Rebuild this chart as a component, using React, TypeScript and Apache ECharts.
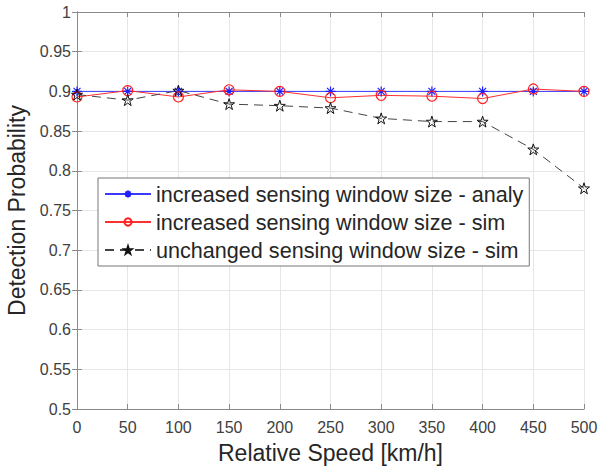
import React, { useEffect, useRef } from "react";
import * as echarts from "echarts";

const speeds = [0, 50, 100, 150, 200, 250, 300, 350, 400, 450, 500];
const analyValues = [0.9, 0.9, 0.9, 0.9, 0.9, 0.9, 0.9, 0.9, 0.9, 0.9, 0.9];
const increasedSimValues = [0.893, 0.901, 0.893, 0.902, 0.9, 0.892, 0.895, 0.894, 0.891, 0.903, 0.9];
const unchangedSimValues = [0.896, 0.889, 0.901, 0.884, 0.882, 0.879, 0.866, 0.862, 0.862, 0.827, 0.778];
const seriesNames = [
  "increased sensing window size - analy",
  "increased sensing window size - sim",
  "unchanged sensing window size - sim",
];

const ASTERISK = "path://M5,0L5,10M0,5L10,5M1.5,1.5L8.5,8.5M1.5,8.5L8.5,1.5";
const STAR =
  "path://M5,0L6.12,3.45L9.76,3.45L6.82,5.59L7.94,9.05L5,6.91L2.06,9.05L3.18,5.59L0.24,3.45L3.88,3.45Z";

const FONT = "'Liberation Sans', Arial, Helvetica, sans-serif";

function pairs(vals: number[]) {
  return speeds.map((s, i) => [s, vals[i]]);
}

export default function App() {
  const ref = useRef<HTMLDivElement>(null);
  useEffect(() => {
    if (!ref.current) return;
    const chart = echarts.init(ref.current, undefined, { renderer: "svg" });
    const axisLineStyle = { color: "#8a8a8a", width: 1 };
    const gridLine = { show: true, lineStyle: { color: "#e6e6e6", width: 1 } };
    chart.setOption({
      animation: false,
      backgroundColor: "#fff",
      textStyle: { fontFamily: FONT },
      grid: { left: 77, right: 15, top: 12, bottom: 57, containLabel: false, outerBoundsMode: "none" },
      legend: {
        orient: "vertical",
        left: 98,
        top: 178,
        padding: [5, 6],
        itemGap: 6,
        itemWidth: 46,
        itemHeight: 9,
        backgroundColor: "#fff",
        borderColor: "#777",
        borderWidth: 1,
        borderRadius: 0,
        textStyle: { fontSize: 21.6, color: "#262626", fontFamily: FONT },
        data: seriesNames,
      },
      xAxis: [
        {
          type: "value",
          min: 0,
          max: 500,
          interval: 50,
          name: "Relative Speed [km/h]",
          nameLocation: "middle",
          nameGap: 32,
          nameTextStyle: { fontSize: 23, color: "#262626", fontFamily: FONT },
          axisLine: { show: true, lineStyle: axisLineStyle },
          axisTick: { show: true, inside: true, length: 5, lineStyle: axisLineStyle },
          axisLabel: { fontSize: 16, color: "#404040", margin: 10, fontFamily: FONT },
          splitLine: gridLine,
        },
        {
          type: "value",
          position: "top",
          min: 0,
          max: 500,
          interval: 50,
          axisLine: { show: true, lineStyle: axisLineStyle },
          axisTick: { show: true, inside: true, length: 5, lineStyle: axisLineStyle },
          axisLabel: { show: false },
          splitLine: { show: false },
        },
      ],
      yAxis: [
        {
          type: "value",
          min: 0.5,
          max: 1,
          interval: 0.05,
          name: "Detection Probability",
          nameLocation: "middle",
          nameGap: 44,
          nameRotate: 90,
          nameTextStyle: { fontSize: 23, color: "#262626", fontFamily: FONT },
          axisLine: { show: true, lineStyle: axisLineStyle },
          axisTick: { show: true, inside: true, length: 5, lineStyle: axisLineStyle },
          axisLabel: { fontSize: 16, color: "#404040", margin: 6, fontFamily: FONT },
          splitLine: gridLine,
        },
        {
          type: "value",
          position: "right",
          min: 0.5,
          max: 1,
          interval: 0.05,
          axisLine: { show: true, lineStyle: axisLineStyle },
          axisTick: { show: true, inside: true, length: 5, lineStyle: axisLineStyle },
          axisLabel: { show: false },
          splitLine: { show: false },
        },
      ],
      series: [
        {
          name: seriesNames[0],
          type: "line",
          data: pairs(analyValues),
          symbol: ASTERISK,
          symbolSize: 10,
          showAllSymbol: true,
          lineStyle: { color: "#3a3aff", width: 1 },
          itemStyle: { color: "rgba(0,0,0,0)", borderColor: "#2020ff", borderWidth: 1.2 },
        },
        {
          name: seriesNames[1],
          type: "line",
          data: pairs(increasedSimValues),
          symbol: "circle",
          symbolSize: 10,
          showAllSymbol: true,
          lineStyle: { color: "#ff3030", width: 1 },
          itemStyle: { color: "rgba(0,0,0,0)", borderColor: "#ff2020", borderWidth: 1.2 },
        },
        {
          name: seriesNames[2],
          type: "line",
          data: pairs(unchangedSimValues),
          symbol: STAR,
          symbolSize: 11,
          showAllSymbol: true,
          lineStyle: { color: "#444", width: 1, type: [9, 6] },
          itemStyle: { color: "rgba(0,0,0,0)", borderColor: "#111", borderWidth: 1 },
        },
      ],
    });
    return () => chart.dispose();
  }, []);
  return (
    <div
      ref={ref}
      style={{ position: "fixed", left: 0, top: 0, width: 599, height: 466 }}
    />
  );
}
